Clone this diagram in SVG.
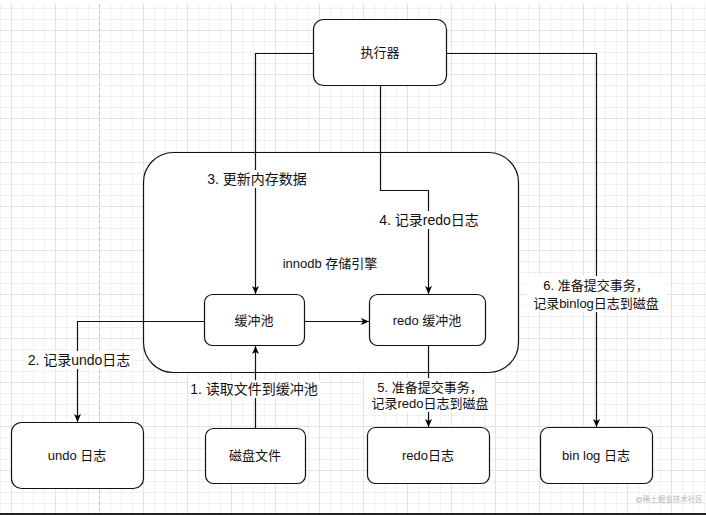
<svg xmlns="http://www.w3.org/2000/svg" width="706" height="515" viewBox="0 0 706 515">
  <defs>
    <pattern id="grid" patternUnits="userSpaceOnUse" x="11" y="30" width="44" height="44">
      <path d="M0 11.5H44M0 22.5H44M0 33.5H44M11.5 0V44M22.5 0V44M33.5 0V44" stroke="#f1f1f1" stroke-width="1" fill="none"/>
      <path d="M0 0.5H44M0.5 0V44" stroke="#e3e3e3" stroke-width="1" fill="none"/>
    </pattern>
    <marker id="arrow" viewBox="0 0 8 7" refX="8" refY="3.5" markerWidth="8" markerHeight="7" markerUnits="userSpaceOnUse" orient="auto">
      <path d="M0,0 L8,3.5 L0,7 L2,3.5 z" fill="#000"/>
    </marker>
    <style>
      .box { fill: #fff; stroke: #111; stroke-width: 1.2; }
      .edge { fill: none; stroke: #111; stroke-width: 1.2; marker-end: url(#arrow); }
      .t { font-family: "Liberation Sans", "Noto Sans CJK SC", sans-serif; fill: #111; text-anchor: middle; }
      .n { font-size: 13px; }
      .l { font-size: 14px; }
      .s { font-size: 13px; }
      .bg { fill: #fff; }
    </style>
  </defs>

  <!-- background -->
  <rect x="0" y="0" width="706" height="515" fill="#fff"/>
  <rect x="0" y="4" width="706" height="509" fill="url(#grid)"/>
  <line x1="99.5" y1="4" x2="99.5" y2="513" stroke="#c4c4c4" stroke-width="1" stroke-dasharray="3 3"/>
  <rect x="0" y="513" width="706" height="2" fill="#222"/>
  <text x="669" y="502" font-family="Liberation Sans, Noto Sans CJK SC, sans-serif" font-size="7.5" fill="#b5b5b5" text-anchor="middle">@稀土掘金技术社区</text>

  <!-- container -->
  <g id="innodb">
    <rect class="box" x="143.5" y="152.5" width="375" height="220" rx="30" ry="30"/>
    <text class="t n" x="330" y="268">innodb 存储引擎</text>
  </g>

  <!-- nodes -->
  <g id="executor">
    <rect class="box" x="313.5" y="19.5" width="133" height="66" rx="10" ry="10"/>
    <text class="t n" x="380" y="57">执行器</text>
  </g>
  <g id="buffer-pool">
    <rect class="box" x="204.5" y="294.5" width="100" height="51" rx="8" ry="8"/>
    <text class="t n" x="254" y="325">缓冲池</text>
  </g>
  <g id="redo-buffer">
    <rect class="box" x="369.5" y="294.5" width="116" height="51" rx="8" ry="8"/>
    <text class="t n" x="427" y="325">redo 缓冲池</text>
  </g>
  <g id="undo-log">
    <rect class="box" x="11.5" y="422.5" width="132" height="66" rx="10" ry="10"/>
    <text class="t n" x="77" y="460">undo 日志</text>
  </g>
  <g id="disk-file">
    <rect class="box" x="205.5" y="428.5" width="100" height="55" rx="8" ry="8"/>
    <text class="t n" x="255" y="460">磁盘文件</text>
  </g>
  <g id="redo-log">
    <rect class="box" x="367.5" y="427.5" width="122" height="56" rx="8" ry="8"/>
    <text class="t n" x="428" y="460">redo日志</text>
  </g>
  <g id="binlog">
    <rect class="box" x="540.5" y="427.5" width="112" height="56" rx="8" ry="8"/>
    <text class="t n" x="596" y="460">bin log 日志</text>
  </g>

  <!-- connectors -->
  <g id="connectors">
    <path class="edge" d="M255.5 428 V346"/>
    <path class="edge" d="M204 321.5 H77.5 V422"/>
    <path class="edge" d="M313 53.5 H255.5 V294"/>
    <path class="edge" d="M380.5 85 V190.5 H428.5 V294"/>
    <path class="edge" d="M428.5 346 V427"/>
    <path class="edge" d="M447 53.5 H596.5 V427"/>
    <path class="edge" d="M304 321.5 H369"/>
  </g>

  <!-- connector labels -->
  <g id="labels">
    <rect class="bg" x="205" y="170" width="104" height="18"/>
    <text class="t l" x="257" y="184">3. 更新内存数据</text>
    <rect class="bg" x="377" y="211" width="104" height="18"/>
    <text class="t l" x="429" y="225">4. 记录redo日志</text>
    <rect class="bg" x="26" y="351" width="106" height="18"/>
    <text class="t l" x="79" y="365">2. 记录undo日志</text>
    <rect class="bg" x="189" y="380" width="131" height="18"/>
    <text class="t l" x="254" y="394">1. 读取文件到缓冲池</text>
    <rect class="bg" x="364" y="378" width="131" height="34"/>
    <text class="t s" x="430" y="392">5. 准备提交事务，</text>
    <text class="t s" x="430" y="408">记录redo日志到磁盘</text>
    <rect class="bg" x="526" y="276" width="141" height="36"/>
    <text class="t s" x="596" y="290">6. 准备提交事务，</text>
    <text class="t s" x="596" y="308">记录binlog日志到磁盘</text>
  </g>
</svg>
